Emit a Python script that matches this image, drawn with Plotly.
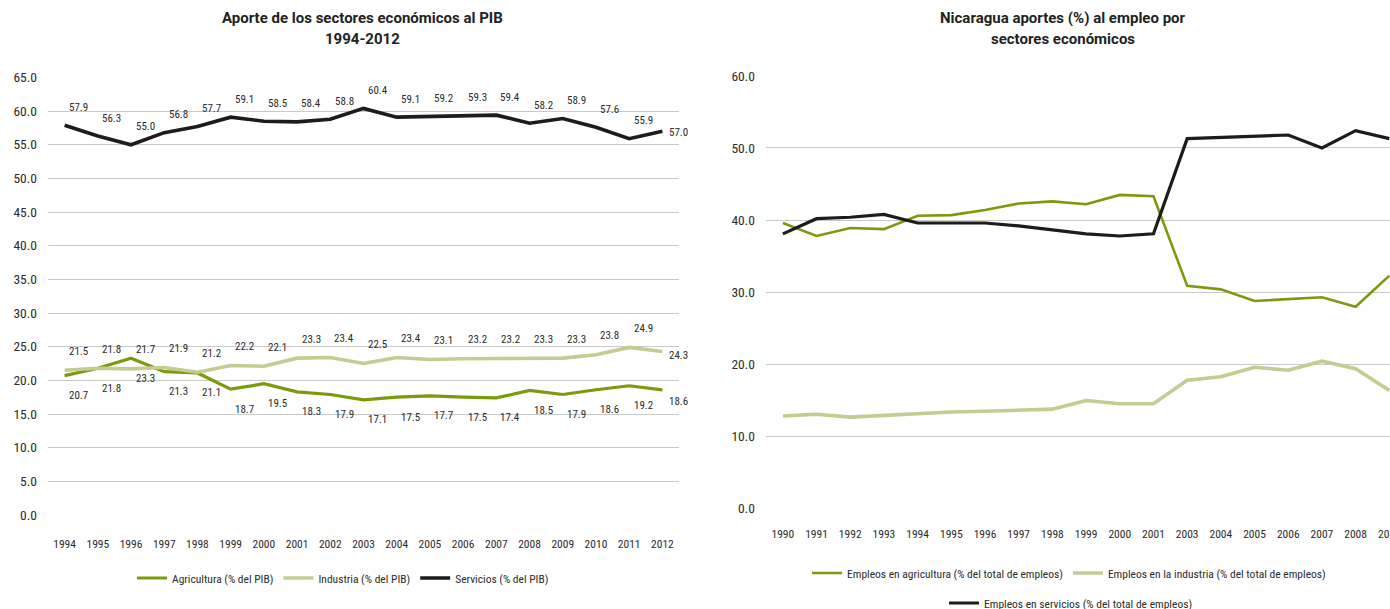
import plotly.graph_objects as go

# ---------------- Data: left chart (PIB) ----------------
years_pib = ["1994", "1995", "1996", "1997", "1998", "1999", "2000", "2001", "2002", "2003",
             "2004", "2005", "2006", "2007", "2008", "2009", "2010", "2011", "2012"]
agricultura_pib = [20.7, 21.8, 23.3, 21.3, 21.1, 18.7, 19.5, 18.3, 17.9, 17.1,
                   17.5, 17.7, 17.5, 17.4, 18.5, 17.9, 18.6, 19.2, 18.6]
industria_pib = [21.5, 21.8, 21.7, 21.9, 21.2, 22.2, 22.1, 23.3, 23.4, 22.5,
                 23.4, 23.1, 23.2, 23.2, 23.3, 23.3, 23.8, 24.9, 24.3]
servicios_pib = [57.9, 56.3, 55.0, 56.8, 57.7, 59.1, 58.5, 58.4, 58.8, 60.4,
                 59.1, 59.2, 59.3, 59.4, 58.2, 58.9, 57.6, 55.9, 57.0]

# ---------------- Data: right chart (empleo) ----------------
years_emp = ["1990", "1991", "1992", "1993", "1994", "1995", "1996", "1997", "1998", "1999",
             "2000", "2001", "2003", "2004", "2005", "2006", "2007", "2008", "2010"]
agricultura_emp = [39.6, 37.8, 38.9, 38.75, 40.6, 40.7, 41.4, 42.3, 42.6, 42.2,
                   43.5, 43.3, 30.9, 30.4, 28.8, 29.0, 29.3, 28.0, 32.3]
industria_emp = [12.85, 13.1, 12.7, 12.95, 13.2, 13.4, 13.5, 13.6, 13.8, 15.0,
                 14.55, 14.55, 17.8, 18.3, 19.6, 19.2, 20.45, 19.4, 16.4]
servicios_emp = [38.1, 40.2, 40.4, 40.8, 39.6, 39.6, 39.6, 39.2, 38.7, 38.1,
                 37.8, 38.1, 51.3, 51.5, 51.6, 51.8, 50.0, 52.4, 51.3]

# ---------------- Styles ----------------
GREEN = "#7c9a0e"
LIGHT = "#c6cb94"
BLACK = "#1d1b1c"
GRID = "#c9c9c9"
TEXT = "#2b2b2b"
NARROW = "Liberation Sans Narrow, Roboto Condensed, DejaVu Sans Condensed, Arial Narrow, sans-serif"
TITLE_FONT = "Roboto, Liberation Sans, Arial, sans-serif"

W, H = 1390, 609


def fx(px):
    return px / W


def fy(py):
    return 1 - py / H


fig = go.Figure()

# Left chart traces
fig.add_trace(go.Scatter(x=years_pib, y=agricultura_pib, mode="lines", name="Agricultura (% del PIB)",
                         line=dict(color=GREEN, width=3.2), xaxis="x", yaxis="y", legend="legend"))
fig.add_trace(go.Scatter(x=years_pib, y=industria_pib, mode="lines", name="Industria (% del PIB)",
                         line=dict(color=LIGHT, width=3.6), xaxis="x", yaxis="y", legend="legend"))
fig.add_trace(go.Scatter(x=years_pib, y=servicios_pib, mode="lines", name="Servicios (% del PIB)",
                         line=dict(color=BLACK, width=3.6), xaxis="x", yaxis="y", legend="legend"))

# Right chart traces
fig.add_trace(go.Scatter(x=years_emp, y=agricultura_emp, mode="lines",
                         name="Empleos en agricultura (% del total de empleos)",
                         line=dict(color=GREEN, width=2.6), xaxis="x2", yaxis="y2", legend="legend2"))
fig.add_trace(go.Scatter(x=years_emp, y=industria_emp, mode="lines",
                         name="Empleos en la industria (% del total de empleos)",
                         line=dict(color=LIGHT, width=3.6), xaxis="x2", yaxis="y2", legend="legend2"))
fig.add_trace(go.Scatter(x=years_emp, y=servicios_emp, mode="lines",
                         name="Empleos en servicios (% del total de empleos)",
                         line=dict(color=BLACK, width=3.2), xaxis="x2", yaxis="y2", legend="legend3"))

# Data labels for the left chart (x given as category index)
label_font = dict(family=NARROW, size=11, color=TEXT)
series_labels = [(agricultura_pib, -20, -12), (industria_pib, 19, -4), (servicios_pib, 18, -1)]
last = len(years_pib) - 1
for values, dy, dy_last in series_labels:
    for i, v in enumerate(values):
        if i == last:
            fig.add_annotation(x=i, y=v, xref="x", yref="y", text=f"{v:.1f}", showarrow=False,
                               xanchor="left", xshift=5, yshift=dy_last, font=label_font)
        else:
            fig.add_annotation(x=i, y=v, xref="x", yref="y", text=f"{v:.1f}", showarrow=False,
                               xshift=14, yshift=dy, font=label_font)

# Titles
title_font = dict(family=TITLE_FONT, size=15, color="#222222", weight="bold")
for txt, xc, yc in [("Aporte de los sectores económicos al PIB", 362, 18),
                    ("1994-2012", 362, 39),
                    ("Nicaragua aportes (%) al empleo por", 1063, 18),
                    ("sectores económicos", 1063, 39)]:
    fig.add_annotation(x=fx(xc), y=fy(yc), xref="paper", yref="paper", text=txt,
                       showarrow=False, xanchor="center", yanchor="middle", font=title_font)

tick_font_x = dict(family=NARROW, size=11.5, color=TEXT)
tick_font_y = dict(family=NARROW, size=13.5, color=TEXT)
legend_font = dict(family=NARROW, size=11.5, color=TEXT)

fig.update_layout(
    width=W, height=H,
    margin=dict(l=0, r=0, t=0, b=0, autoexpand=False),
    paper_bgcolor="white", plot_bgcolor="white",
    showlegend=True,
    xaxis=dict(type="category", domain=[fx(48), fx(679)], range=[-0.5, 18.5],
               showgrid=False, zeroline=False, showline=False, ticks="",
               tickfont=tick_font_x, ticklabelstandoff=20, anchor="y"),
    yaxis=dict(domain=[fy(515), fy(77.3)], range=[0, 65.02], dtick=5, tickformat=".1f",
               showgrid=True, gridcolor=GRID, gridwidth=1.2, zeroline=False, showline=False,
               ticks="", tickfont=tick_font_y, ticklabelstandoff=10, anchor="x"),
    xaxis2=dict(type="category", domain=[fx(766), fx(1390)], range=[-0.5, 18.02],
                showgrid=False, zeroline=False, showline=False, ticks="",
                tickfont=tick_font_x, ticklabelstandoff=17, anchor="y2"),
    yaxis2=dict(domain=[fy(508.7), fy(75.7)], range=[0, 60.02], dtick=10, tickformat=".1f",
                showgrid=True, gridcolor=GRID, gridwidth=1.2, zeroline=False, showline=False,
                ticks="", tickfont=tick_font_y, ticklabelstandoff=10, anchor="x2"),
    legend=dict(orientation="h", x=fx(343), y=fy(578), xanchor="center", yanchor="middle",
                font=legend_font, bgcolor="rgba(0,0,0,0)", itemwidth=30, tracegroupgap=0),
    legend2=dict(orientation="h", x=fx(1069), y=fy(573), xanchor="center", yanchor="middle",
                 font=legend_font, bgcolor="rgba(0,0,0,0)", itemwidth=30),
    legend3=dict(orientation="h", x=fx(1071), y=fy(603), xanchor="center", yanchor="middle",
                 font=legend_font, bgcolor="rgba(0,0,0,0)", itemwidth=30),
)

fig.write_html(
    "out.html",
    config={"displayModeBar": False},
    post_script="document.body.style.margin='0';document.body.style.overflow='hidden';",
)
